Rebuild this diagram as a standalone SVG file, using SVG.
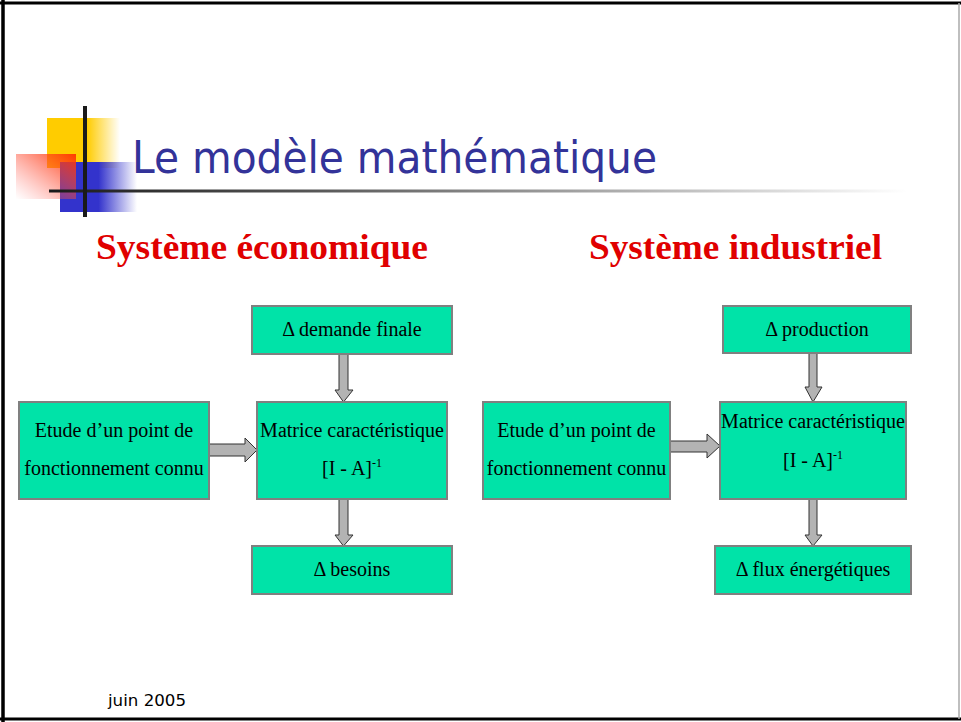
<svg xmlns="http://www.w3.org/2000/svg" width="961" height="722" viewBox="0 0 961 722">
<style>
.box{fill:#00E3A8;stroke:#808080;stroke-width:2}
.t{font-family:"Liberation Serif","Times New Roman",serif;font-size:20px;fill:#000;text-anchor:middle}
.sup{font-size:12px}
.arr{fill:#B3B3B3;stroke:#333;stroke-width:1}
.h{font-family:"Liberation Serif","Times New Roman",serif;font-size:36px;font-weight:bold;fill:#E00000}
</style>
<defs>
<linearGradient id="gy" x1="0" y1="0" x2="1" y2="0">
<stop offset="0" stop-color="#FFCC00"/><stop offset="0.55" stop-color="#FFCC00"/><stop offset="1" stop-color="#FFCC00" stop-opacity="0"/>
</linearGradient>
<linearGradient id="gb" x1="0" y1="0" x2="1" y2="0">
<stop offset="0" stop-color="#3333CC"/><stop offset="0.5" stop-color="#3333CC"/><stop offset="1" stop-color="#3333CC" stop-opacity="0"/>
</linearGradient>
<linearGradient id="gr" x1="1" y1="0" x2="0" y2="1">
<stop offset="0" stop-color="#FF3300" stop-opacity="0.95"/><stop offset="1" stop-color="#FF6666" stop-opacity="0"/>
</linearGradient>
<linearGradient id="gl" x1="0" y1="0" x2="1" y2="0">
<stop offset="0" stop-color="#1a1a1a"/><stop offset="0.3" stop-color="#555"/><stop offset="1" stop-color="#fff"/>
</linearGradient>
</defs>
<rect width="961" height="722" fill="#fff"/>
<!-- frame -->
<line x1="0" y1="3" x2="961" y2="3" stroke="#000" stroke-width="3"/>
<line x1="3" y1="0" x2="3" y2="722" stroke="#000" stroke-width="3.5"/>
<line x1="0" y1="719" x2="961" y2="719" stroke="#000" stroke-width="3"/>
<line x1="959" y1="3" x2="959" y2="719" stroke="#aaa" stroke-width="1.5"/>
<!-- title decoration -->
<g id="logo">
<rect x="47" y="118" width="73" height="50" fill="url(#gy)"/>
<rect x="60" y="162" width="77" height="50" fill="url(#gb)"/>
<rect x="16" y="154" width="60" height="45" fill="url(#gr)"/>
<rect x="49" y="189.5" width="858" height="3" fill="url(#gl)"/>
<rect x="83" y="106" width="4" height="111" fill="#1a1a1a"/>
</g>
<text x="132" y="173" font-family="DejaVu Sans,Verdana,sans-serif" font-size="45" fill="#333399" textLength="525" lengthAdjust="spacingAndGlyphs">Le modèle mathématique</text>
<text class="h" x="96" y="259" textLength="332" lengthAdjust="spacingAndGlyphs">Système économique</text>
<text class="h" x="589" y="259" textLength="293" lengthAdjust="spacingAndGlyphs">Système industriel</text>
<!-- connectors -->
<g id="connectors">
<path class="arr" d="M339,354 H348 V390 H353 L343.5,402 L335,390 H339 Z"/>
<path class="arr" d="M209,444 H245 V438 L257,450 L245,462 V456 H209 Z"/>
<path class="arr" d="M339,499 H348 V535 H353 L343.5,546 L335,535 H339 Z"/>
<path class="arr" d="M809,353 H817 V387 H822 L813,402 L805,387 H809 Z"/>
<path class="arr" d="M670,441 H707 V434 L720,446 L707,458 V452 H670 Z"/>
<path class="arr" d="M809,499 H817 V535 H822 L813,546 L805,535 H809 Z"/>
</g>
<!-- left nodes -->
<g id="demande"><rect class="box" x="252" y="306" width="200" height="48"/><text class="t" x="352" y="336">Δ demande finale</text></g>
<g id="etude1"><rect class="box" x="19" y="402" width="190" height="97"/><text class="t" x="114" y="437">Etude d’un point de</text><text class="t" x="114" y="475">fonctionnement connu</text></g>
<g id="matrice1"><rect class="box" x="257" y="402" width="190" height="97"/><text class="t" x="352" y="437">Matrice caractéristique</text><text class="t" x="352" y="475">[I - A]<tspan class="sup" dy="-8">-1</tspan></text></g>
<g id="besoins"><rect class="box" x="252" y="546" width="200" height="48"/><text class="t" x="352" y="576">Δ besoins</text></g>
<!-- right nodes -->
<g id="production"><rect class="box" x="723" y="306" width="188" height="47"/><text class="t" x="817" y="336">Δ production</text></g>
<g id="etude2"><rect class="box" x="483" y="402" width="187" height="97"/><text class="t" x="576.5" y="437">Etude d’un point de</text><text class="t" x="576.5" y="475">fonctionnement connu</text></g>
<g id="matrice2"><rect class="box" x="720" y="402" width="186" height="97"/><text class="t" x="813" y="428">Matrice caractéristique</text><text class="t" x="813" y="467">[I - A]<tspan class="sup" dy="-8">-1</tspan></text></g>
<g id="flux"><rect class="box" x="715" y="546" width="196" height="48"/><text class="t" x="813" y="576">Δ flux énergétiques</text></g>
<text x="108" y="706" font-family="DejaVu Sans,Verdana,sans-serif" font-size="15.5" fill="#000" textLength="78" lengthAdjust="spacingAndGlyphs">juin 2005</text>
</svg>
